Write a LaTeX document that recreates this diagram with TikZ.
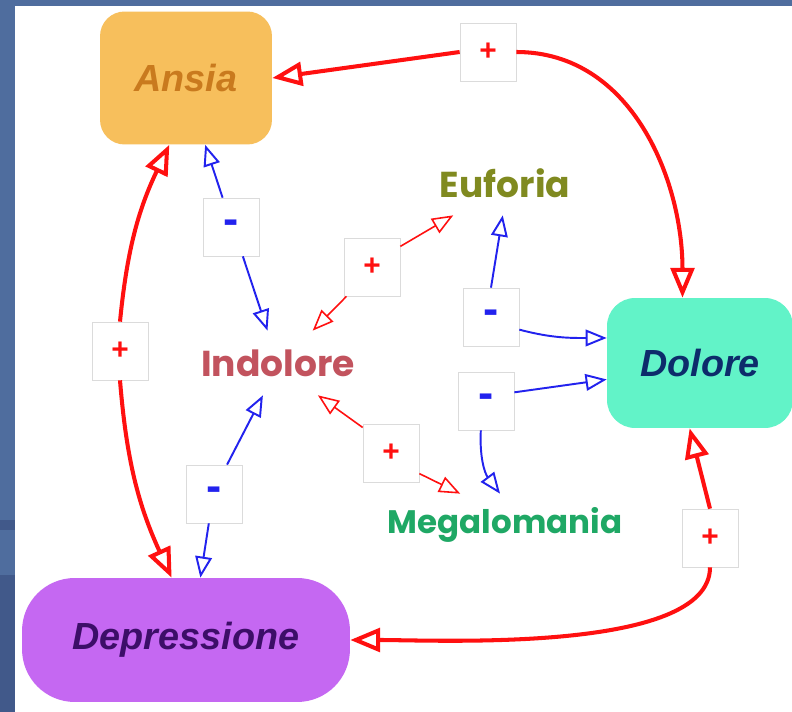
\documentclass[tikz,border=0pt]{standalone}
\usepackage{fontspec}
\setmainfont{Liberation Sans}
\newfontfamily\comicfont{Poppins}
\usepackage{tikz}
\usetikzlibrary{arrows.meta}

\definecolor{bgblue}{HTML}{4F6D9E}
\definecolor{bgdark}{HTML}{41598A}
\definecolor{ansiafill}{HTML}{F7BF5C}
\definecolor{ansiatext}{HTML}{C97A1E}
\definecolor{dolorefill}{HTML}{62F3C8}
\definecolor{doloretext}{HTML}{0D2C6B}
\definecolor{deprfill}{HTML}{C568F2}
\definecolor{deprtext}{HTML}{3C0E68}
\definecolor{euforiatext}{HTML}{808A20}
\definecolor{indoloretext}{HTML}{C2535E}
\definecolor{megatext}{HTML}{1FA865}
\definecolor{linkred}{HTML}{FF1010}
\definecolor{linkblue}{HTML}{2222EE}

\tikzset{
  concept/.style={inner sep=0pt, font=\fontsize{21.5}{25}\selectfont\bfseries\itshape},
  feeling/.style={inner sep=0pt, font=\comicfont\fontsize{20.5}{24}\selectfont\bfseries},
  linkbox/.style={fill=white, draw=black!14, line width=0.4pt, inner sep=0pt,
                  minimum width=1.12cm, minimum height=1.16cm},
  linkplus/.style={linkbox, text=linkred, font=\fontsize{17}{17}\selectfont\bfseries},
  linkminus/.style={linkbox, text=linkblue, font=\fontsize{26}{26}\selectfont\bfseries},
  strong/.style={linkred, line width=2.3pt, -{Triangle[open, length=17pt, width=13.5pt]}},
  weakneg/.style={linkblue, line width=1.1pt, -{Triangle[open, length=12pt, width=9.5pt]}},
  weakpos/.style={linkred, line width=0.9pt, -{Triangle[open, length=12pt, width=9.5pt]}}
}

\begin{document}
\begin{tikzpicture}[x=0.02cm, y=-0.02cm]

% Background and page
\fill[bgblue] (0,0) rectangle (792,712);
\fill[bgdark] (0,520) rectangle (15,530);
\fill[bgdark] (0,575) rectangle (15,712);
\fill[white] (15,6) rectangle (792,712);
\useasboundingbox (0,0) rectangle (792,712);

% Concepts
\node[concept, fill=ansiafill, text=ansiatext, rounded corners=14pt,
      minimum width=3.44cm, minimum height=2.66cm] (ansia) at (186,78) {Ansia};
\node[concept, fill=dolorefill, text=doloretext, rounded corners=16pt,
      minimum width=3.72cm, minimum height=2.6cm] (dolore) at (700,363) {Dolore};
\node[concept, fill=deprfill, text=deprtext, rounded corners=30pt,
      minimum width=6.56cm, minimum height=2.48cm] (depressione) at (186,640) {Depressione};

\node[feeling, text=euforiatext, minimum width=3cm, minimum height=1.28cm] (euforia) at (505,183) {Euforia};
\node[feeling, text=indoloretext, minimum width=3.4cm, minimum height=1.28cm] (indolore) at (278,363) {Indolore};
\node[feeling, text=megatext, font=\comicfont\fontsize{18.5}{22}\selectfont\bfseries,
      minimum width=5cm, minimum height=1.24cm] (megalomania) at (505,525) {Megalomania};

% Link labels
\node[linkplus]  (ptop)  at (488,52)  {+};
\node[linkplus]  (pleft) at (120,351) {+};
\node[linkplus]  (pmid)  at (372,267) {+};
\node[linkplus]  (plow)  at (391,453) {+};
\node[linkplus]  (pbr)   at (710,538) {+};
\node[linkminus] (mup)   at (231,227) {-};
\node[linkminus] (mlow)  at (214,494) {-};
\node[linkminus] (meuf)  at (491,317) {-};
\node[linkminus] (mmeg)  at (486,401) {-};

% Strong links
\draw[strong] (ptop.west) -- (ansia.east);
\draw[strong] (ptop.east) to[out=0, in=90] (dolore.105);
\draw[strong] (pleft.north) to[bend left=10] (ansia.256);
\draw[strong] (pleft.south) to[bend right=10] (depressione.103);
\draw[strong] (pbr.north) -- (dolore.261);
\draw[strong] (pbr.south) to[out=-90, in=0, looseness=0.6] (depressione.east);

% Negative links
\draw[weakneg] (mup.106) -- (ansia.286);
\draw[weakneg] (mup.292) -- (indolore.108);
\draw[weakneg] (mlow.66) -- (indolore.245);
\draw[weakneg] (mlow.260) -- (depressione.77);
\draw[weakneg] (meuf.north) -- (euforia.266);
\draw[weakneg] (meuf.336) to[out=-15, in=180] (dolore.165);
\draw[weakneg] (mmeg.17) -- (dolore.190);
\draw[weakneg] (mmeg.260) to[bend right=20] (megalomania.99);

% Positive links
\draw[weakpos] (pmid.36) -- (euforia.212);
\draw[weakpos] (pmid.229) -- (indolore.43);
\draw[weakpos] (plow.138) -- (indolore.321);
\draw[weakpos] (plow.324) -- (megalomania.145);

\end{tikzpicture}
\end{document}
